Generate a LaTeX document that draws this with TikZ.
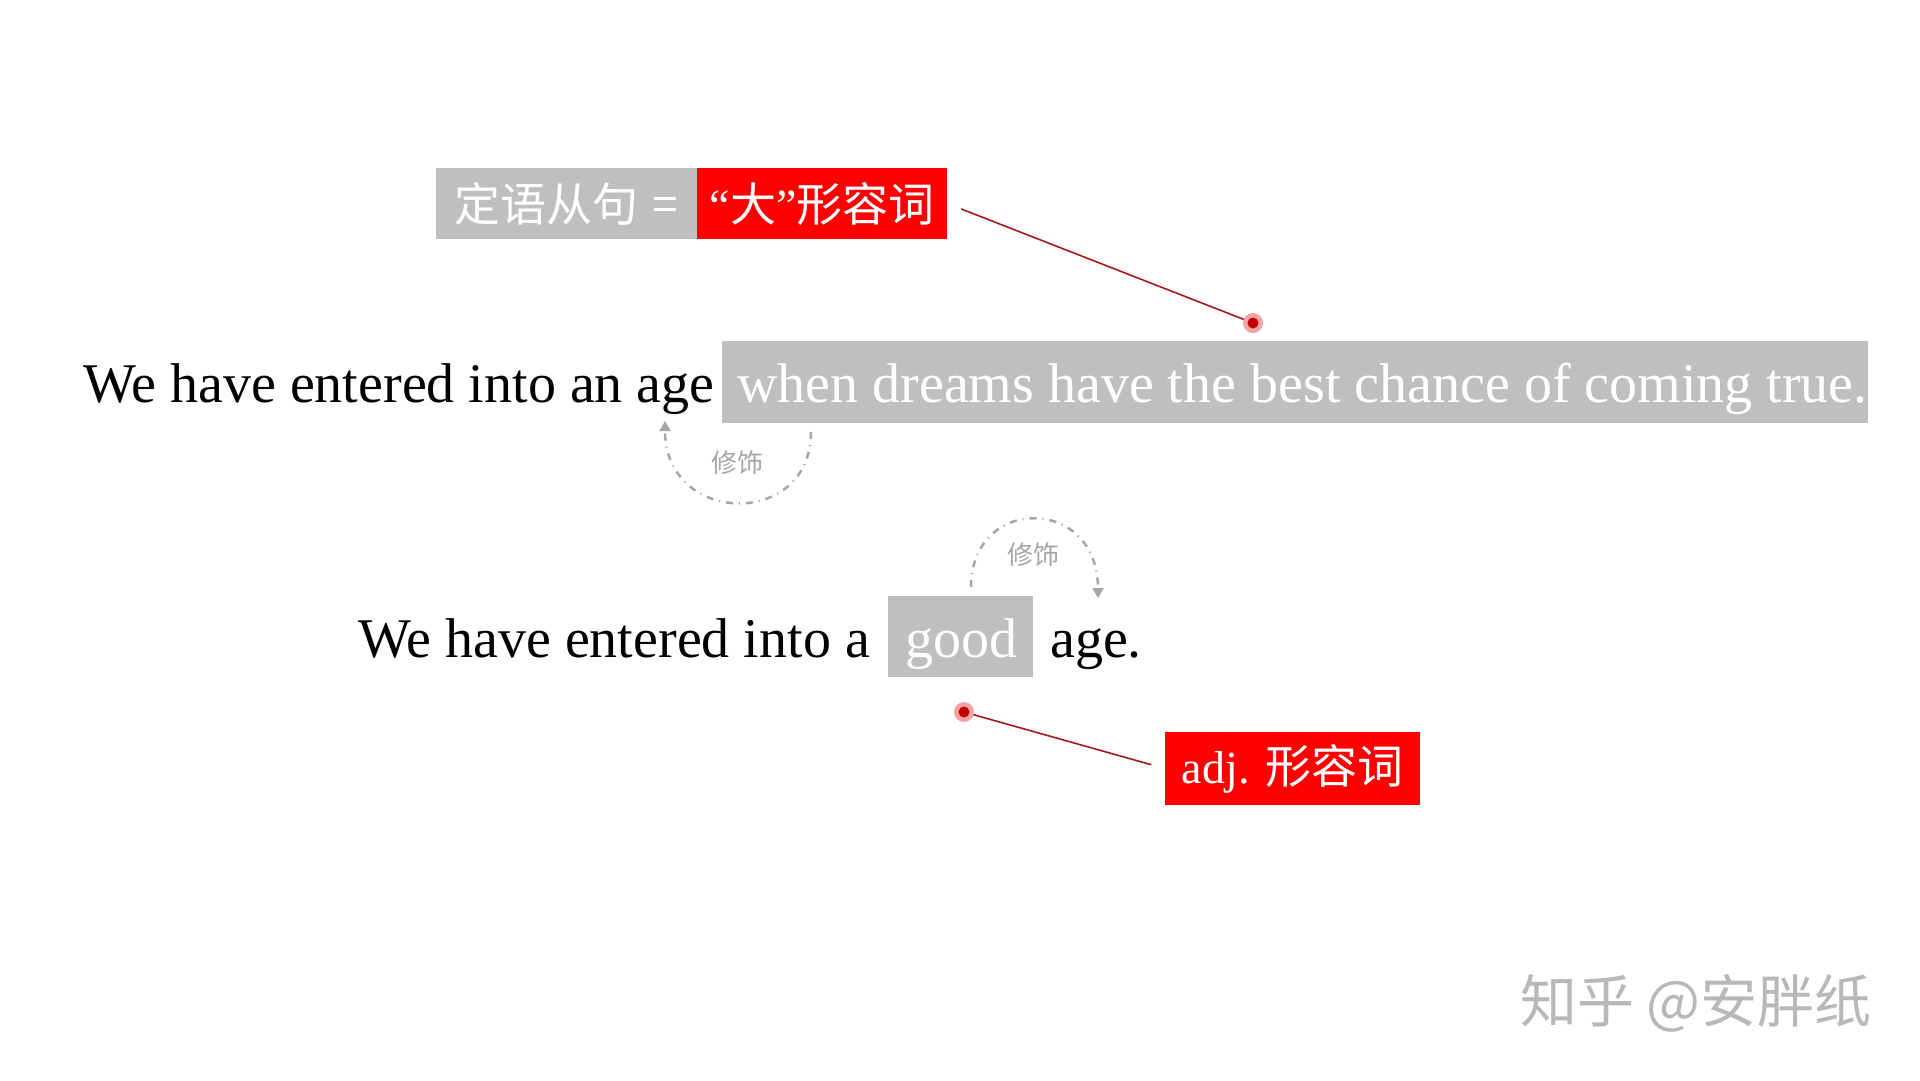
\documentclass[tikz,border=0pt]{standalone}
\usepackage{fontspec}
\setmainfont{Liberation Serif}
\newfontfamily\cjk{Noto Sans CJK SC}
\usetikzlibrary{arrows.meta,backgrounds}
\definecolor{boxgray}{HTML}{BFBFBF}
\definecolor{boxred}{HTML}{FF0000}
\definecolor{linered}{HTML}{A81818}
\definecolor{dotpink}{HTML}{F4A3A3}
\definecolor{dotred}{HTML}{C00000}
\definecolor{arcgray}{HTML}{A6A6A6}
\definecolor{wmgray}{HTML}{B8B8B8}
\begin{document}
\begin{tikzpicture}[x=1pt,y=-1pt,
  graybox/.style={rectangle, fill=boxgray, inner sep=0pt, text=white},
  redbox/.style={rectangle, fill=boxred, inner sep=0pt, text=white},
  big/.style={font=\fontsize{56}{60}\selectfont, inner sep=0pt, anchor=base west},
  tag/.style={font=\cjk\fontsize{46}{50}\selectfont},
  modlabel/.style={text=arcgray, font=\cjk\fontsize{26}{30}\selectfont, inner sep=0pt},
  modarc/.style={draw=arcgray, line width=2.5pt, dash pattern=on 7pt off 6pt on 1pt off 6pt, -{Triangle[length=10pt,width=11pt]}},
  redline/.style={draw=linered, line width=1.6pt},
  dotmark/.style={circle, fill=dotpink, minimum size=20pt, inner sep=0pt,
    path picture={\fill[dotred] (path picture bounding box.center) circle (5.5pt);}}
]
\useasboundingbox (0,0) rectangle (1920,1080);

% top tag
\node[graybox, tag, minimum width=261pt, minimum height=71pt] (defbox) at (566.5,203.5) {定语从句\hspace{14pt}=};
\node[redbox, tag, minimum width=250pt, minimum height=71pt] (bigadj) at (822,203.5) {{\rmfamily “}大{\rmfamily ”}形容词};

% sentence 1
\node[big] (s1) at (83,402) {We have entered into an age};
\node[graybox, minimum width=1146pt, minimum height=82pt] (clause) at (1295,382) {};
\node[big, text=white] (clausetxt) at (737,402) {when dreams have the best chance of coming true.};

% sentence 2
\node[big] (s2) at (358,657) {We have entered into a};
\node[graybox, minimum width=145pt, minimum height=81pt] (goodbox) at (960.5,636.5) {};
\node[big, text=white] (goodtxt) at (905,657) {good};
\node[big] (age2) at (1050,657) {age.};

% adj tag
\node[redbox, minimum width=255pt, minimum height=73pt, font=\fontsize{46}{50}\selectfont] (adj) at (1292.5,768.5) {adj. {\cjk 形容词}};

% dots
\node[dotmark] (d1) at (1253,323) {};
\node[dotmark] (d2) at (964,712) {};

\begin{scope}[on background layer]
\fill[white] (0,0) rectangle (1920,1080);
\draw[redline, shorten <=15pt] (bigadj.east) -- (d1.center);
\draw[redline, shorten >=14pt] (d2.center) -- (adj.west);
\end{scope}

% modifier arcs
\coordinate (a1s) at (811,432);
\coordinate (a1e) at (665,421);
\draw[modarc] (a1s) .. controls +(0,97) and +(0,105) .. (a1e);
\node[modlabel] (mod1) at (737,463) {修饰};

\coordinate (a2s) at (971,587);
\coordinate (a2e) at (1098,598);
\draw[modarc] (a2s) .. controls +(0,-92) and +(0,-103) .. (a2e);
\node[modlabel] (mod2) at (1033,555) {修饰};

% watermark
\node[text=wmgray, font=\cjk\fontsize{57}{60}\selectfont, inner sep=0pt] (wm) at (1696,1003) {知乎 @安胖纸};
\end{tikzpicture}
\end{document}
